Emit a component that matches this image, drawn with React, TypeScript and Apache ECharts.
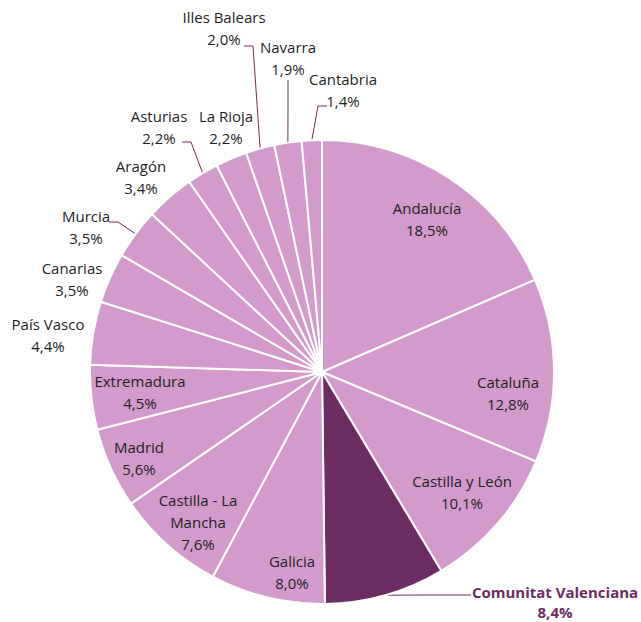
import React, { useEffect, useRef } from "react";
import * as echarts from "echarts";

// ---- data ----
const regions = [
  "Andalucía",
  "Cataluña",
  "Castilla y León",
  "Comunitat Valenciana",
  "Galicia",
  "Castilla - La Mancha",
  "Madrid",
  "Extremadura",
  "País Vasco",
  "Canarias",
  "Murcia",
  "Aragón",
  "Asturias",
  "La Rioja",
  "Illes Balears",
  "Navarra",
  "Cantabria",
];
const shares = [18.5, 12.8, 10.1, 8.4, 8.0, 7.6, 5.6, 4.5, 4.4, 3.5, 3.5, 3.4, 2.2, 2.2, 2.0, 1.9, 1.4];
const highlighted = "Comunitat Valenciana";

// ---- layout / style ----
const CENTER: [number, number] = [322, 372];
const RADIUS = 232;
const LIGHT = "#d29bcb";
const DARK = "#6a2c61";
const TEXT = "#1f1f1f";
const FONT = "'Open Sans', 'Noto Sans', sans-serif";

// label block centres (px)
const labelPos: Record<string, [number, number]> = {
  "Andalucía": [427, 219],
  "Cataluña": [508, 393],
  "Castilla y León": [462, 492],
  "Comunitat Valenciana": [555, 602],
  "Galicia": [292, 572],
  "Castilla - La Mancha": [198, 522],
  "Madrid": [139, 458],
  "Extremadura": [140, 392],
  "País Vasco": [48, 335],
  "Canarias": [72, 279],
  "Murcia": [86, 227],
  "Aragón": [141, 177],
  "Asturias": [159, 127],
  "La Rioja": [226, 127],
  "Illes Balears": [224, 28],
  "Navarra": [288, 58],
  "Cantabria": [343, 90],
};
// leader line bend/end points (px), starting from slice edge
const leaderPts: Record<string, [number, number][]> = {
  "Comunitat Valenciana": [[430, 595], [471, 595]],
  "Murcia": [[118, 222], [109, 222]],
  "Asturias": [[191, 142], [182, 142]],
  "Illes Balears": [[253, 46], [244, 46]],
  "Navarra": [[288, 110], [288, 80]],
  "Cantabria": [[318, 106], [327, 106]],
};

function edgePoint(idx: number): [number, number] {
  const total = shares.reduce((a, b) => a + b, 0);
  let before = 0;
  for (let i = 0; i < idx; i++) before += shares[i];
  const a = ((before + shares[idx] / 2) / total) * Math.PI * 2;
  return [CENTER[0] + RADIUS * Math.sin(a), CENTER[1] - RADIUS * Math.cos(a)];
}

function fmt(v: number) {
  return v.toFixed(1).replace(".", ",") + "%";
}

export default function App() {
  const ref = useRef<HTMLDivElement>(null);
  useEffect(() => {
    if (!ref.current) return;
    const chart = echarts.init(ref.current, undefined, { renderer: "svg" });
    const data = regions.map((name, i) => {
      const isHi = name === highlighted;
      return {
        name,
        value: shares[i],
        itemStyle: { color: isHi ? DARK : LIGHT },
        label: isHi ? { color: DARK, fontWeight: "bold", lineHeight: 20 } : {},
        labelLine: { show: !!leaderPts[name] },
      };
    });
    chart.setOption({
      animation: false,
      backgroundColor: "#ffffff",
      series: [
        {
          type: "pie",
          center: CENTER,
          radius: RADIUS,
          startAngle: 90,
          clockwise: true,
          avoidLabelOverlap: false,
          minShowLabelAngle: 0,
          data,
          itemStyle: { borderColor: "#ffffff", borderWidth: 2 },
          label: {
            show: true,
            position: "outside",
            color: TEXT,
            fontFamily: FONT,
            fontSize: 15,
            lineHeight: 22,
            align: "center",
            formatter: (p: any) => {
              const n = p.name === "Castilla - La Mancha" ? "Castilla - La\nMancha" : p.name;
              return n + "\n" + fmt(p.value);
            },
          },
          labelLine: {
            show: false,
            smooth: false,
            lineStyle: { color: DARK, width: 1 },
          },
          emphasis: { disabled: true },
          labelLayout: (p: any) => {
            const name = regions[p.dataIndex];
            const pos = labelPos[name];
            const res: any = {
              x: pos[0],
              y: pos[1],
              align: "center",
              verticalAlign: "middle",
              hideOverlap: false,
              moveOverlap: false,
            };
            const pts = leaderPts[name];
            if (pts) res.labelLinePoints = [edgePoint(p.dataIndex), ...pts];
            return res;
          },
        },
      ],
    });
    return () => chart.dispose();
  }, []);
  return (
    <div
      ref={ref}
      style={{ position: "fixed", left: 0, top: 0, width: 641, height: 622, background: "#fff" }}
    />
  );
}
